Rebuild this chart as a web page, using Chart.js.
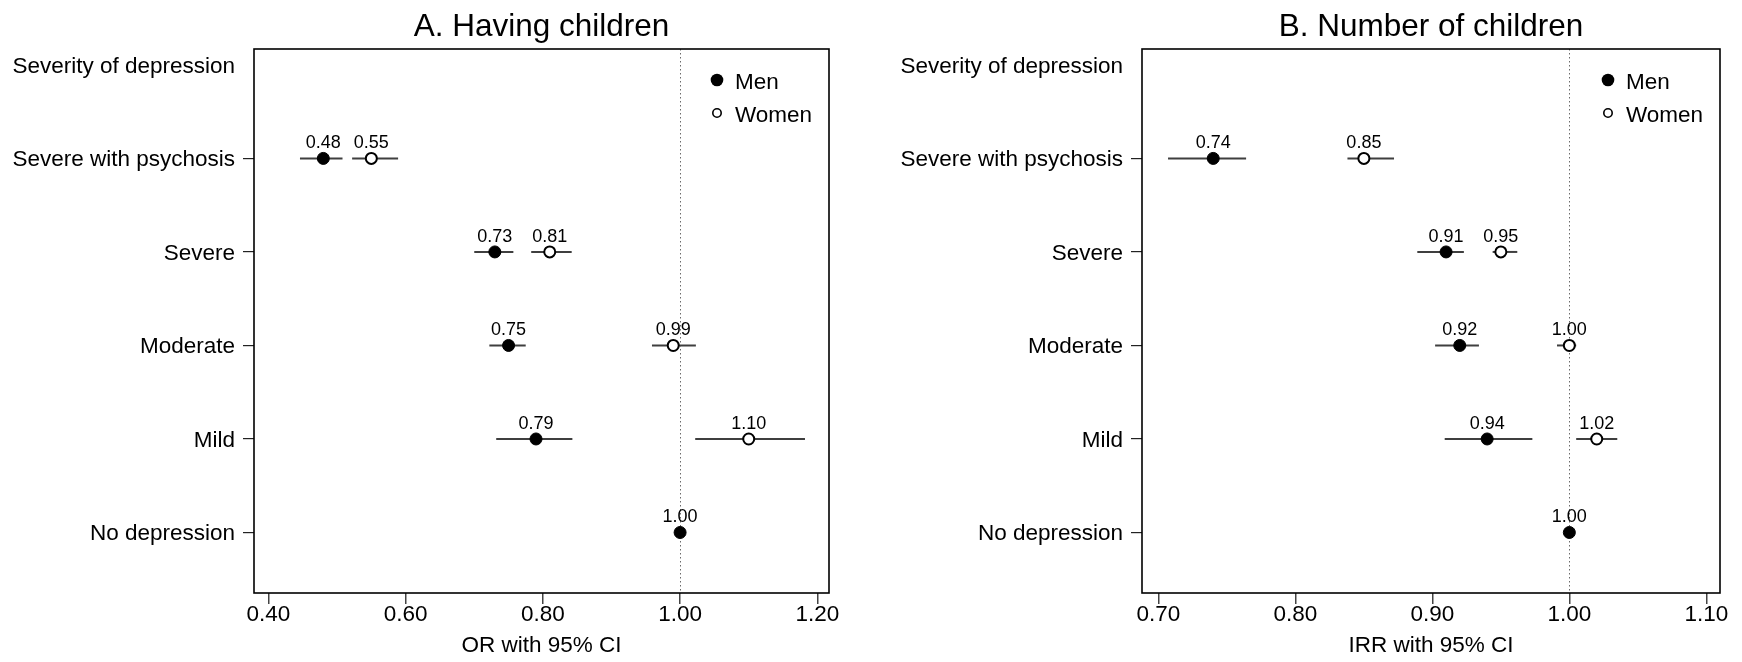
<!DOCTYPE html>
<html>
<head>
<meta charset="utf-8">
<title>Severity of depression and children</title>
<script src="https://cdn.jsdelivr.net/npm/chart.js@4.4.1/dist/chart.umd.min.js"></script>
<style>
  html, body { margin: 0; padding: 0; background: #ffffff; }
  #wrap { position: relative; width: 1742px; height: 662px; overflow: hidden; background: #ffffff; }
  #wrap canvas { position: absolute; top: 0; }
</style>
</head>
<body>
<div id="wrap">
  <canvas id="panelA" width="871" height="662" style="left:0px"></canvas>
  <canvas id="panelB" width="871" height="662" style="left:871px"></canvas>
</div>
<script>
// Row categories, bottom to top
const severityLabels = ["No depression", "Mild", "Moderate", "Severe", "Severe with psychosis"];
const headerLabel = "Severity of depression";
const seriesNames = ["Men", "Women"];

// A. Having children: odds ratios with 95% CI
const orMen       = [1.00, 0.79, 0.75, 0.73, 0.48];
const orMenLow    = [null, 0.732, 0.722, 0.700, 0.446];
const orMenHigh   = [null, 0.843, 0.775, 0.757, 0.508];
const orWomen     = [null, 1.10, 0.99, 0.81, 0.55];
const orWomenLow  = [null, 1.022, 0.959, 0.783, 0.522];
const orWomenHigh = [null, 1.182, 1.023, 0.842, 0.589];
const orTicks     = [0.40, 0.60, 0.80, 1.00, 1.20];

// B. Number of children: incidence rate ratios with 95% CI
const irrMen       = [1.00, 0.94, 0.92, 0.91, 0.74];
const irrMenLow    = [null, 0.909, 0.902, 0.889, 0.707];
const irrMenHigh   = [null, 0.973, 0.934, 0.923, 0.764];
const irrWomen     = [null, 1.02, 1.00, 0.95, 0.85];
const irrWomenLow  = [null, 1.005, 0.991, 0.944, 0.838];
const irrWomenHigh = [null, 1.035, 1.005, 0.962, 0.872];
const irrTicks     = [0.70, 0.80, 0.90, 1.00, 1.10];

const FONT = "'Liberation Sans', Arial, Helvetica, sans-serif";
Chart.defaults.font.family = FONT;
Chart.defaults.color = "#000";

const rowPositions = severityLabels.map((_, i) => i + 1);
const headerPos = severityLabels.length + 1;

function toPoints(values) {
  const pts = [];
  values.forEach((v, i) => { if (v !== null) pts.push({ x: v, y: rowPositions[i] }); });
  return pts;
}

// Draws the reference line, CI whiskers, frame, value labels, legend and title
const forestDecor = {
  id: "forestDecor",
  beforeDatasetsDraw(chart, args, opts) {
    const { ctx, chartArea: a, scales: { x, y } } = chart;
    ctx.save();
    // dotted line at ratio = 1
    const xr = Math.round(x.getPixelForValue(opts.refValue)) + 0.5;
    ctx.strokeStyle = "#6a6a6a";
    ctx.lineWidth = 1;
    ctx.setLineDash([1.5, 2.5]);
    ctx.beginPath();
    ctx.moveTo(xr, a.top);
    ctx.lineTo(xr, a.bottom);
    ctx.stroke();
    ctx.setLineDash([]);
    // confidence intervals
    ctx.strokeStyle = "#3f3f3f";
    ctx.lineWidth = 2;
    opts.intervals.forEach(s => {
      s.low.forEach((lo, i) => {
        if (lo === null) return;
        const py = y.getPixelForValue(rowPositions[i]);
        ctx.beginPath();
        ctx.moveTo(x.getPixelForValue(lo), py);
        ctx.lineTo(x.getPixelForValue(s.high[i]), py);
        ctx.stroke();
      });
    });
    ctx.restore();
  },
  afterDatasetsDraw(chart, args, opts) {
    const { ctx, chartArea: a, scales: { x, y } } = chart;
    ctx.save();
    // plot frame
    ctx.strokeStyle = "#000";
    ctx.lineWidth = 1.6;
    ctx.strokeRect(a.left, a.top, a.right - a.left, a.bottom - a.top);

    // value labels above each estimate
    ctx.fillStyle = "#000";
    ctx.font = "18px " + FONT;
    ctx.textAlign = "center";
    ctx.textBaseline = "alphabetic";
    opts.estimates.forEach(vals => {
      vals.forEach((v, i) => {
        if (v === null) return;
        ctx.fillText(v.toFixed(2), x.getPixelForValue(v), y.getPixelForValue(rowPositions[i]) - 10);
      });
    });

    // legend (top right)
    const lx = a.right - 112;
    const rows = [a.top + 31, a.top + 64];
    ctx.font = "22.5px " + FONT;
    ctx.textAlign = "left";
    // Men: filled
    ctx.beginPath();
    ctx.arc(lx, rows[0], 6.3, 0, Math.PI * 2);
    ctx.fillStyle = "#000";
    ctx.fill();
    // Women: open
    ctx.beginPath();
    ctx.arc(lx, rows[1], 4.2, 0, Math.PI * 2);
    ctx.fillStyle = "#fff";
    ctx.fill();
    ctx.lineWidth = 1.6;
    ctx.strokeStyle = "#000";
    ctx.stroke();
    ctx.fillStyle = "#000";
    seriesNames.forEach((name, k) => ctx.fillText(name, lx + 18, rows[k] + 9));

    // panel title
    ctx.font = "31.5px " + FONT;
    ctx.textAlign = "center";
    ctx.fillText(opts.title, (a.left + a.right) / 2, 36);
    ctx.restore();
  }
};

function buildPanel(canvasId, p) {
  return new Chart(document.getElementById(canvasId), {
    type: "scatter",
    data: {
      datasets: [
        {
          label: seriesNames[0],
          data: toPoints(p.men),
          pointStyle: "circle",
          pointRadius: 6,
          pointBackgroundColor: "#000",
          pointBorderColor: "#000",
          pointBorderWidth: 1
        },
        {
          label: seriesNames[1],
          data: toPoints(p.women),
          pointStyle: "circle",
          pointRadius: 5.5,
          pointBackgroundColor: "#fff",
          pointBorderColor: "#000",
          pointBorderWidth: 2
        }
      ]
    },
    options: {
      responsive: false,
      animation: false,
      devicePixelRatio: 1,
      events: [],
      layout: { padding: { top: 49, right: p.padRight, bottom: 0, left: 0 } },
      plugins: {
        legend: { display: false },
        tooltip: { enabled: false },
        forestDecor: {
          refValue: 1.0,
          title: p.title,
          estimates: [p.men, p.women],
          intervals: [
            { low: p.menLow, high: p.menHigh },
            { low: p.womenLow, high: p.womenHigh }
          ]
        }
      },
      scales: {
        x: {
          type: "linear",
          min: p.xMin,
          max: p.xMax,
          afterBuildTicks: s => { s.ticks = p.ticks.map(v => ({ value: v })); },
          afterFit: s => { s.height = 69; },
          ticks: {
            callback: v => Number(v).toFixed(2),
            font: { size: 22.5, lineHeight: 1.0 },
            color: "#000",
            padding: 0,
            maxRotation: 0,
            autoSkip: false
          },
          grid: { drawOnChartArea: false, drawTicks: true, tickLength: 11, color: "#444", lineWidth: 1.5 },
          border: { display: false },
          title: {
            display: true,
            text: p.xTitle,
            font: { size: 22.5 },
            color: "#000",
            padding: { top: 0, bottom: 3 }
          }
        },
        y: {
          type: "linear",
          min: 0.353,
          max: 6.17,
          afterBuildTicks: s => { s.ticks = [...rowPositions, headerPos].map(v => ({ value: v })); },
          afterFit: s => { s.width = p.axisWidth; },
          ticks: {
            callback: v => (v === headerPos ? headerLabel : severityLabels[v - 1]),
            font: { size: 22.5 },
            color: "#000",
            padding: 8,
            labelOffset: 1.5,
            autoSkip: false
          },
          grid: {
            drawOnChartArea: false,
            drawTicks: true,
            tickLength: 11,
            lineWidth: 1.2,
            color: c => (c.tick && c.tick.value === headerPos ? "rgba(0,0,0,0)" : "#222")
          },
          border: { display: false }
        }
      }
    },
    plugins: [forestDecor]
  });
}

buildPanel("panelA", {
  title: "A. Having children",
  xTitle: "OR with 95% CI",
  men: orMen, menLow: orMenLow, menHigh: orMenHigh,
  women: orWomen, womenLow: orWomenLow, womenHigh: orWomenHigh,
  ticks: orTicks, xMin: 0.379, xMax: 1.217,
  axisWidth: 254, padRight: 42
});

buildPanel("panelB", {
  title: "B. Number of children",
  xTitle: "IRR with 95% CI",
  men: irrMen, menLow: irrMenLow, menHigh: irrMenHigh,
  women: irrWomen, womenLow: irrWomenLow, womenHigh: irrWomenHigh,
  ticks: irrTicks, xMin: 0.688, xMax: 1.110,
  axisWidth: 271, padRight: 22
});
</script>
</body>
</html>
